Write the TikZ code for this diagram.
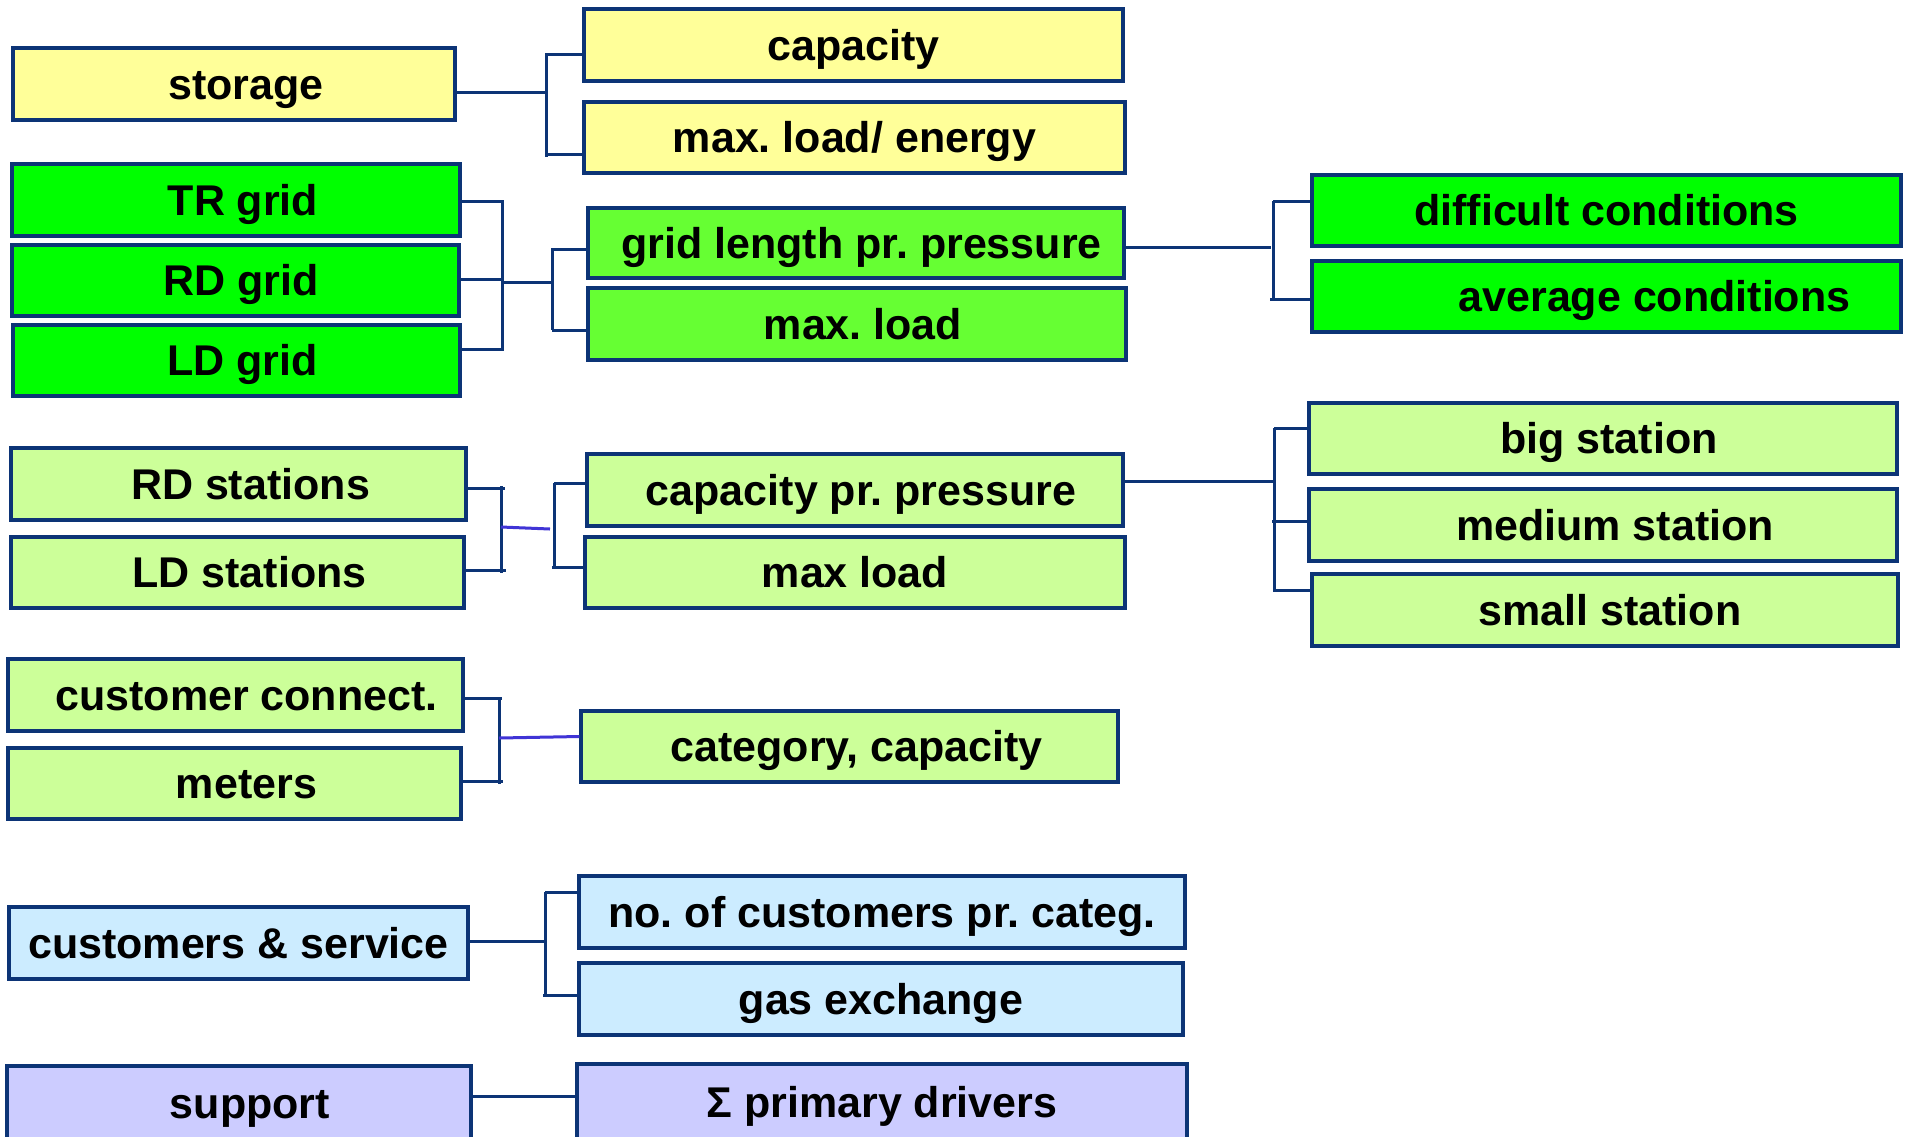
\documentclass[tikz,border=0pt]{standalone}
\usepackage{fontspec}
\setmainfont{Liberation Sans}
\frenchspacing
\definecolor{edge}{RGB}{12,52,118}
\definecolor{joinblue}{RGB}{64,52,214}
\definecolor{cyellow}{HTML}{FFFF99}
\definecolor{cgreen}{HTML}{00FF00}
\definecolor{cgreenb}{HTML}{66FF33}
\definecolor{clight}{HTML}{CCFF99}
\definecolor{cblue}{HTML}{CCECFF}
\definecolor{clav}{HTML}{CCCCFF}
\tikzset{
  box/.style={draw=edge, line width=3.2pt, rectangle, inner sep=0pt,
    font=\fontsize{43}{50}\selectfont\bfseries\frenchspacing, text=black,
    text height=30.8pt, text depth=0pt},
  conn/.style={draw=edge, line width=3pt},
  joinline/.style={draw=joinblue, line width=3pt}
}
% \mkbox{name}{x1}{y1}{x2}{y2}{fill}{text}
\newcommand\mkbox[7]{%
  \pgfmathsetmacro\mkW{#4-#2}\pgfmathsetmacro\mkH{#5-#3}%
  \node[box, fill=#6, minimum width=\mkW pt, minimum height=\mkH pt] (#1)
    at ({(#2+#4)/2},{(#3+#5)/2}) {#7};}
% left padding that moves a label to the right by half its width
\newcommand\pad[1]{\hspace*{#1pt}}
\begin{document}
\begin{tikzpicture}[x=1pt,y=-1pt]
\clip (0,0) rectangle (1906,1136);
\fill[white] (0,0) rectangle (1906,1136);

% left column
\mkbox{storage}{13}{48}{455}{120}{cyellow}{\pad{24}storage}
\mkbox{tr}{12}{164}{460}{236}{cgreen}{\pad{14}TR grid}
\mkbox{rd}{12}{245}{459}{316}{cgreen}{\pad{11}RD grid}
\mkbox{ld}{13}{325}{460}{396}{cgreen}{\pad{12}LD grid}
\mkbox{rds}{11}{448}{466}{520}{clight}{\pad{24}RD stations}
\mkbox{lds}{11}{537}{464}{608}{clight}{\pad{24}LD stations}
\mkbox{cc}{8}{659}{463}{731}{clight}{\pad{22}customer connect.}
\mkbox{met}{8}{748}{461}{819}{clight}{\pad{24}meters}
\mkbox{cs}{9}{907}{468}{979}{cblue}{customers \& service}
\mkbox{sup}{7}{1066}{471}{1141}{clav}{\pad{22}support}

% middle column
\mkbox{cap}{584}{9}{1123}{81}{cyellow}{capacity}
\mkbox{mle}{584}{102}{1125}{173}{cyellow}{max. load/ energy}
\mkbox{gl}{588}{208}{1124}{278}{cgreenb}{\pad{11}grid length pr. pressure}
\mkbox{ml}{588}{288}{1126}{360}{cgreenb}{\pad{12}max. load}
\mkbox{cpp}{587}{454}{1123}{526}{clight}{\pad{12}capacity pr. pressure}
\mkbox{mxl}{585}{537}{1125}{608}{clight}{max load}
\mkbox{cat}{581}{711}{1118}{782}{clight}{\pad{14}category, capacity}
\mkbox{noc}{579}{876}{1185}{948}{cblue}{no. of customers pr. categ.}
\mkbox{gas}{579}{963}{1183}{1035}{cblue}{gas exchange}
\mkbox{sig}{577}{1064}{1187}{1141}{clav}{Σ primary drivers}

% right column
\mkbox{dc}{1312}{175}{1901}{246}{cgreen}{difficult conditions}
\mkbox{ac}{1312}{261}{1901}{332}{cgreen}{\pad{96}average conditions}
\mkbox{big}{1309}{403}{1897}{474}{clight}{\pad{12}big station}
\mkbox{med}{1309}{489}{1897}{561}{clight}{\pad{24}medium station}
\mkbox{sml}{1312}{574}{1898}{646}{clight}{\pad{10}small station}

% storage bracket
\coordinate (sj) at (546,92);
\coordinate (s1) at (546,54);
\coordinate (s2) at (546,154);
\draw[conn] (storage.east |- sj) -- (sj);
\draw[conn] ([yshift=1pt]s1) -- ([yshift=-3pt]s2);
\draw[conn] (s1) -- (cap.west |- s1);
\draw[conn] (s2) -- (mle.west |- s2);

% grid brackets
\coordinate (g1) at (502,201);
\coordinate (g2) at (502,279);
\coordinate (g3) at (502,349);
\coordinate (gm) at (502,282);
\coordinate (h1) at (552,249);
\coordinate (h2) at (552,330);
\coordinate (hm) at (552,282);
\draw[conn] (tr.east |- g1) -- (g1) -- ([yshift=-2pt]g3);
\draw[conn] (rd.east |- g2) -- (g2);
\draw[conn] (ld.east |- g3) -- (g3);
\draw[conn] (gm) -- (hm);
\draw[conn] ([yshift=1pt]h1) -- (h2);
\draw[conn] (h1) -- (gl.west |- h1);
\draw[conn] (h2) -- (ml.west |- h2);

% conditions bracket
\coordinate (c0) at (1271,247);
\coordinate (c1) at (1273,201);
\coordinate (c2) at (1273,299);
\draw[conn] (gl.east |- c0) -- (c0);
\draw[conn] (c1) -- (c2);
\draw[conn] (c1) -- (dc.west |- c1);
\draw[conn] ([xshift=-3pt]c2) -- (ac.west |- c2);

% station brackets
\coordinate (r1) at (501,488);
\coordinate (r2) at (501,570);
\coordinate (rm) at (501,527);
\coordinate (q1) at (554,483);
\coordinate (q2) at (554,567);
\coordinate (qm) at (550,529);
\draw[conn] (rds.east |- r1) -- ([xshift=4pt]r1);
\draw[conn] (lds.east |- r2) -- ([xshift=5pt]r2);
\draw[conn] ([yshift=2pt]r1) -- ([yshift=-3pt]r2);
\draw[joinline] (rm) -- (qm);
\draw[conn] (q1) -- (q2);
\draw[conn] (q1) -- (cpp.west |- q1);
\draw[conn] ([xshift=-2pt]q2) -- (mxl.west |- q2);

% station size bracket
\coordinate (p0) at (1276,481);
\coordinate (p1) at (1274,428);
\coordinate (p2) at (1274,521);
\coordinate (p3) at (1274,590);
\draw[conn] (cpp.east |- p0) -- (p0);
\draw[conn] (p1) -- ([yshift=-2pt]p3);
\draw[conn] (p1) -- (big.west |- p1);
\draw[conn] ([xshift=-2pt]p2) -- (med.west |- p2);
\draw[conn] (p3) -- (sml.west |- p3);

% customer connection bracket
\coordinate (k1) at (499,698);
\coordinate (k2) at (499,781);
\coordinate (km) at (499,738);
\draw[conn] (cc.east |- k1) -- ([xshift=3pt]k1);
\draw[conn] (met.east |- k2) -- ([xshift=4pt]k2);
\draw[conn] ([yshift=1pt]k1) -- ([yshift=-3pt]k2);
\draw[joinline] (km) -- ([yshift=10pt]cat.west);

% customers & service bracket
\coordinate (u0) at (545,941);
\coordinate (u1) at (545,892);
\coordinate (u2) at (545,995);
\draw[conn] (cs.east |- u0) -- (u0);
\draw[conn] (u1) -- (u2);
\draw[conn] (u1) -- (noc.west |- u1);
\draw[conn] ([xshift=-2pt]u2) -- (gas.west |- u2);

% support link
\coordinate (v0) at (520,1096);
\draw[conn] (sup.east |- v0) -- (sig.west |- v0);
\end{tikzpicture}
\end{document}
